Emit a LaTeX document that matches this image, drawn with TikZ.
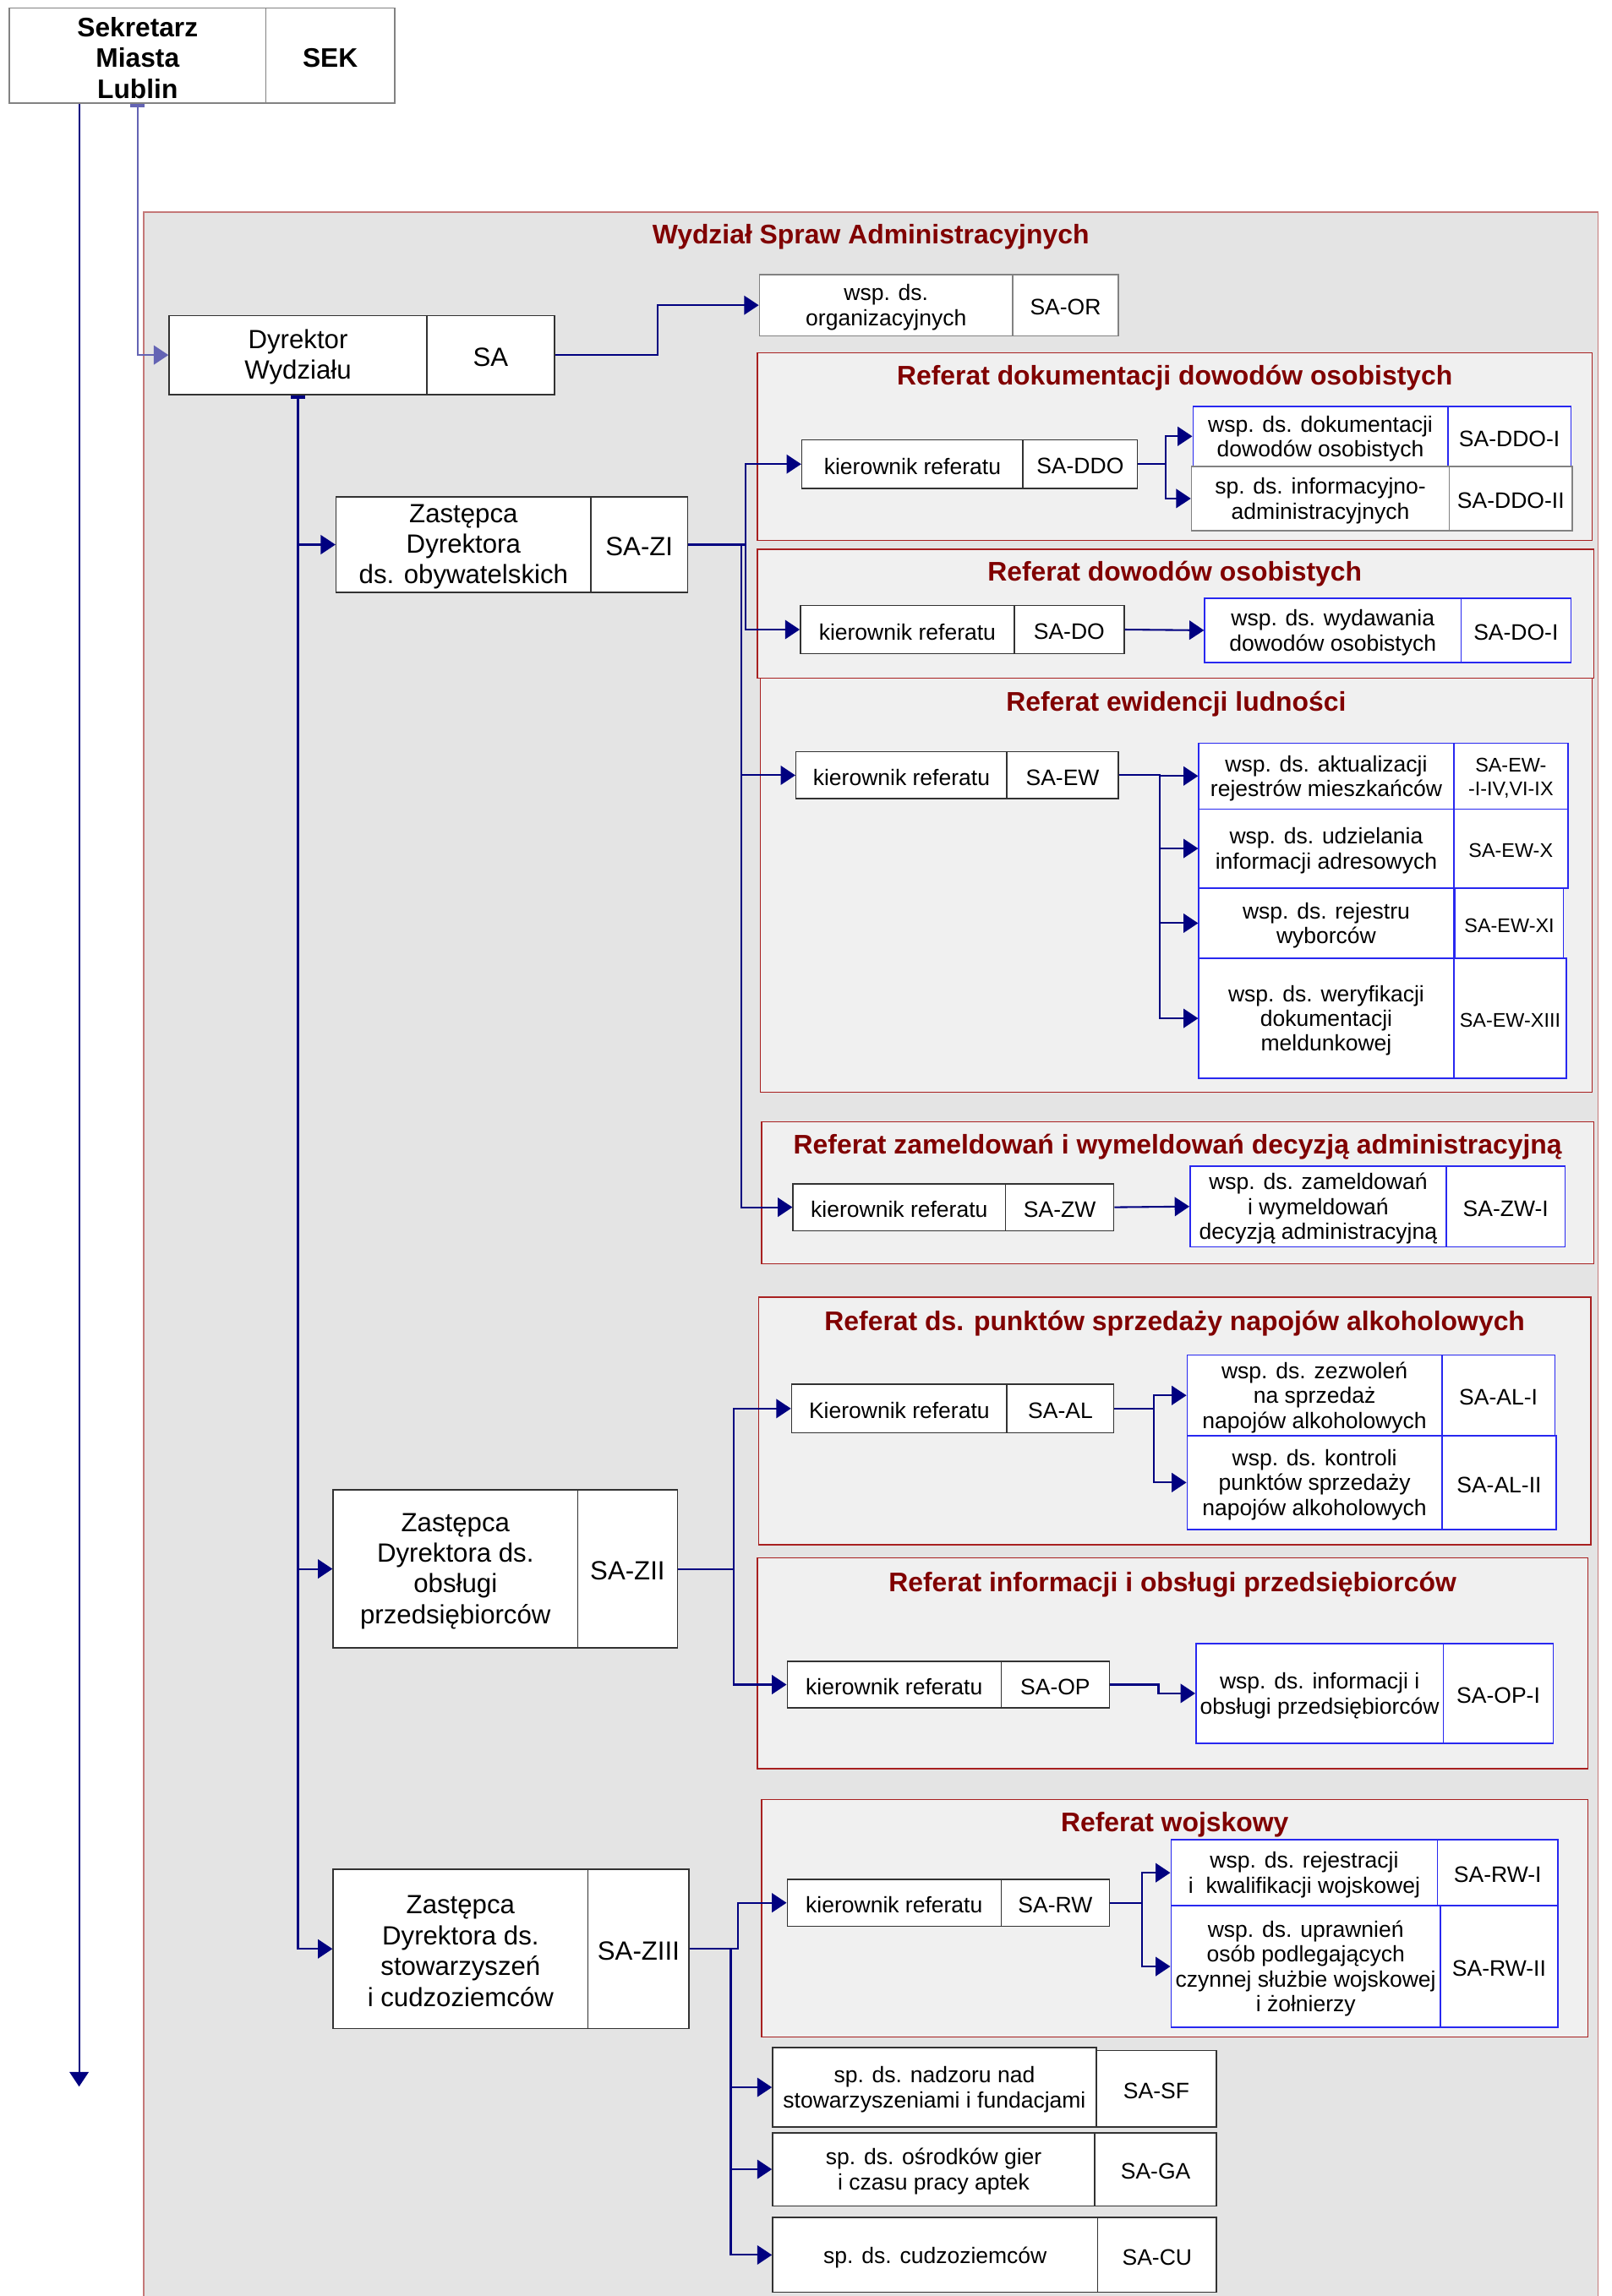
\documentclass[tikz,border=0pt]{standalone}
\usepackage{fontspec}
\setmainfont{Liberation Sans}
\usetikzlibrary{arrows.meta}
\definecolor{navyc}{RGB}{0,0,128}
\definecolor{lightc}{RGB}{100,100,180}
\definecolor{mainfill}{RGB}{228,228,228}
\definecolor{reffill}{RGB}{240,240,240}
\definecolor{mainedge}{RGB}{196,120,120}
\definecolor{refedge}{RGB}{168,32,32}
\definecolor{titlec}{RGB}{128,0,0}
\definecolor{boxedge}{RGB}{50,50,50}
\definecolor{grayedge}{RGB}{130,130,130}
\definecolor{blueedge}{RGB}{40,40,240}
\newcommand{\myfbig}{\fontsize{18}{21}\selectfont}
\newcommand{\myfsm}{\fontsize{15.3}{17}\selectfont}
\newcommand{\myfxs}{\fontsize{13.5}{16}\selectfont}
\newcommand{\myftit}{\fontsize{18.4}{21}\selectfont\bfseries}
\newcommand{\myfsek}{\fontsize{18.3}{21}\selectfont\bfseries}
\newcommand{\ubox}[7][]{\node[bx,#1,minimum width={(#5-#3)*1pt},minimum height={(#6-#4)*1pt}] (#2) at (#3,#4) {};
  \node[bx,#1,txt] (#2t) at ([yshift=-1.5pt]#2.center) {#7};}
\tikzset{
  bx/.style={draw=boxedge, fill=white, line width=0.9pt, inner sep=0pt, align=center, anchor=north west, font=\myfsm},
  txt/.style={draw=none, fill=none, anchor=center},
  big/.style={font=\myfbig},
  sekf/.style={font=\myfsek, draw=grayedge},
  grayb/.style={draw=grayedge},
  blueb/.style={draw=blueedge},
  xs/.style={font=\myfxs},
  ttl/.style={text=titlec, font=\myftit, inner sep=0pt},
  refframe/.style={draw=refedge, fill=reffill, line width=0.9pt},
  arr/.style={draw=navyc, line width=1.2pt, -{Triangle[length=10pt,width=13pt]}},
  arrl/.style={draw=lightc, line width=1.2pt, -{Triangle[length=10pt,width=13pt]}},
  barstart/.style={{Rectangle[length=2.5pt,width=10pt]}-{Triangle[length=10pt,width=13pt]}},
}
\begin{document}
\begin{tikzpicture}[x=1pt,y=-1pt]
\useasboundingbox (0,0) rectangle (1100,1568);
\fill[white] (0,0) rectangle (1100,1568);
% main department frame
\draw[draw=mainedge, fill=mainfill, line width=1pt] (98,145) rectangle (1091,1590);
\node[ttl] (tmain) at (594.5,162) {Wydział Spraw Administracyjnych};
% referat frames
\draw[refframe] (517,241) rectangle (1087,369);
\node[ttl] (t1) at (802,258) {Referat dokumentacji dowodów osobistych};
\draw[refframe] (517,375) rectangle (1088,463);
\node[ttl] (t2) at (802,392) {Referat dowodów osobistych};
\draw[refframe] (519,463) rectangle (1087,746);
\node[ttl] (t3) at (803,481) {Referat ewidencji ludności};
\draw[refframe] (520,766) rectangle (1088,863);
\node[ttl] (t4) at (804,783) {Referat zameldowań i wymeldowań decyzją administracyjną};
\draw[refframe] (518,886) rectangle (1086,1055);
\node[ttl] (t5) at (802,904) {Referat ds. punktów sprzedaży napojów alkoholowych};
\draw[refframe] (517,1064) rectangle (1084,1208);
\node[ttl] (t6) at (800.5,1082) {Referat informacji i obsługi przedsiębiorców};
\draw[refframe] (520,1229) rectangle (1084,1391);
\node[ttl] (t7) at (802,1246) {Referat wojskowy};
% top
\ubox[sekf]{sek}{6}{5}{181}{70}{Sekretarz\\Miasta\\Lublin}
\ubox[sekf]{sekc}{181}{5}{269}{70}{SEK}
\ubox[big]{dyr}{115}{215}{291}{269}{Dyrektor\\Wydziału}
\ubox[big]{dyrc}{291}{215}{378}{269}{SA}
\ubox[grayb]{orl}{518}{187}{691}{229}{wsp. ds.\\organizacyjnych}
\ubox[grayb]{orc}{691}{187}{763}{229}{SA-OR}
% ZI
\ubox[big]{zi}{229}{339}{403}{404}{Zastępca\\Dyrektora\\ds. obywatelskich}
\ubox[big]{zic}{403}{339}{469}{404}{SA-ZI}
\ubox{ddok}{547}{300}{698}{333}{kierownik referatu}
\ubox{ddoc}{698}{300}{776}{333}{SA-DDO}
\ubox[blueb]{dd1}{814}{277}{988}{318}{wsp. ds. dokumentacji\\dowodów osobistych}
\ubox[blueb]{dd1c}{988}{277}{1072}{318}{SA-DDO-I}
\ubox[grayb]{dd2}{813}{318}{989}{362}{sp. ds. informacyjno-\\administracyjnych}
\ubox[grayb]{dd2c}{989}{318}{1073}{362}{SA-DDO-II}
\ubox{dok}{546}{413}{692}{446}{kierownik referatu}
\ubox{doc}{692}{413}{767}{446}{SA-DO}
\ubox[blueb]{do1}{822}{408}{997}{452}{wsp. ds. wydawania\\dowodów osobistych}
\ubox[blueb]{do1c}{997}{408}{1072}{452}{SA-DO-I}
\ubox{ewk}{543}{513}{687}{545}{kierownik referatu}
\ubox{ewc}{687}{513}{763}{545}{SA-EW}
\ubox[blueb]{ew1}{818}{507}{992}{552}{wsp. ds. aktualizacji\\rejestrów mieszkańców}
\ubox[blueb,xs]{ew1c}{992}{507}{1070}{552}{SA-EW-\\-I-IV,VI-IX}
\ubox[blueb]{ew2}{818}{552}{992}{606}{wsp. ds. udzielania\\informacji adresowych}
\ubox[blueb,xs]{ew2c}{992}{552}{1070}{606}{SA-EW-X}
\ubox[blueb]{ew3}{818}{606}{992}{654}{wsp. ds. rejestru\\wyborców}
\ubox[blueb,xs]{ew3c}{993}{606}{1067}{654}{SA-EW-XI}
\ubox[blueb]{ew4}{818}{654}{992}{736}{wsp. ds. weryfikacji\\dokumentacji\\meldunkowej}
\ubox[blueb,xs]{ew4c}{992}{654}{1069}{736}{SA-EW-XIII}
\ubox{zwk}{541}{808}{686}{840}{kierownik referatu}
\ubox{zwc}{686}{808}{760}{840}{SA-ZW}
\ubox[blueb]{zw1}{812}{796}{987}{851}{wsp. ds. zameldowań\\i wymeldowań\\decyzją administracyjną}
\ubox[blueb]{zw1c}{987}{796}{1068}{851}{SA-ZW-I}
% ZII
\ubox[big]{zii}{227}{1017}{394}{1125}{Zastępca\\Dyrektora ds.\\obsługi\\przedsiębiorców}
\ubox[big]{ziic}{394}{1017}{462}{1125}{SA-ZII}
\ubox{alk}{540}{945}{687}{978}{Kierownik referatu}
\ubox{alc}{687}{945}{760}{978}{SA-AL}
\ubox[blueb]{al1}{810}{925}{984}{980}{wsp. ds. zezwoleń\\na sprzedaż\\napojów alkoholowych}
\ubox[blueb]{al1c}{984}{925}{1061}{980}{SA-AL-I}
\ubox[blueb]{al2}{810}{980}{984}{1044}{wsp. ds. kontroli\\punktów sprzedaży\\napojów alkoholowych}
\ubox[blueb]{al2c}{984}{980}{1062}{1044}{SA-AL-II}
\ubox{opk}{537}{1134}{683}{1166}{kierownik referatu}
\ubox{opc}{683}{1134}{757}{1166}{SA-OP}
\ubox[blueb]{op1}{816}{1122}{985}{1190}{wsp. ds. informacji i\\obsługi przedsiębiorców}
\ubox[blueb]{op1c}{985}{1122}{1060}{1190}{SA-OP-I}
% ZIII
\ubox[big]{ziii}{227}{1276}{401}{1385}{Zastępca\\Dyrektora ds.\\stowarzyszeń\\i cudzoziemców}
\ubox[big]{ziiic}{401}{1276}{470}{1385}{SA-ZIII}
\ubox{rwk}{537}{1283}{683}{1315}{kierownik referatu}
\ubox{rwc}{683}{1283}{757}{1315}{SA-RW}
\ubox[blueb]{rw1}{799}{1256}{981}{1301}{wsp. ds. rejestracji\\i\ \ kwalifikacji wojskowej}
\ubox[blueb]{rw1c}{981}{1256}{1063}{1301}{SA-RW-I}
\ubox[blueb]{rw2}{799}{1301}{983}{1384}{wsp. ds. uprawnień\\osób podlegających\\czynnej służbie wojskowej\\i żołnierzy}
\ubox[blueb]{rw2c}{983}{1301}{1063}{1384}{SA-RW-II}
\ubox{sf}{527}{1398}{748}{1452}{sp. ds. nadzoru nad\\stowarzyszeniami i fundacjami}
\ubox{sfc}{748}{1400}{830}{1452}{SA-SF}
\ubox{ga}{527}{1456}{747}{1506}{sp. ds. ośrodków gier\\i czasu pracy aptek}
\ubox{gac}{747}{1456}{830}{1506}{SA-GA}
\ubox{cu}{527}{1514}{749}{1565}{sp. ds. cudzoziemców}
\ubox{cuc}{749}{1514}{830}{1565}{SA-CU}
% connectors
\coordinate (sekend) at (54,1425);
\draw[arr] (sekend |- sek.south) -- (sekend);
\draw[arrl,barstart] (sek.south) |- (dyr.west);
\draw[arr] (dyrc.east) -- ++(70,0) |- (orl.west);
\draw[arr,barstart] (dyr.south) |- (zi.west);
\draw[arr] (dyr.south) |- (zii.west);
\draw[arr] (dyr.south) |- (ziii.west);
% ZI branches
\draw[arr] (zic.east) -- ++(39,0) |- (ddok.west);
\draw[arr] (zic.east) -- ++(39,0) |- (dok.west);
\draw[arr] (zic.east) -- ++(36,0) |- (ewk.west);
\draw[arr] (zic.east) -- ++(36,0) |- (zwk.west);
\draw[arr] (ddoc.east) -- ++(19,0) |- (dd1.west);
\draw[arr] (ddoc.east) -- ++(19,0) |- (dd2.west);
\draw[arr] (doc.east) -- (do1.west);
\draw[arr] (ewc.east) -- ++(28,0) |- (ew1.west);
\draw[arr] (ewc.east) -- ++(28,0) |- (ew2.west);
\draw[arr] (ewc.east) -- ++(28,0) |- (ew3.west);
\draw[arr] (ewc.east) -- ++(28,0) |- (ew4.west);
\draw[arr] (zwc.east) -- (zw1.west);
% ZII branches
\draw[arr] (ziic.east) -- ++(38,0) |- (alk.west);
\draw[arr] (ziic.east) -- ++(38,0) |- (opk.west);
\draw[arr] (alc.east) -- ++(27,0) |- (al1.west);
\draw[arr] (alc.east) -- ++(27,0) |- (al2.west);
\draw[arr] (opc.east) -- ++(33,0) |- (op1.west);
% ZIII branches
\draw[arr] (ziiic.east) -- ++(33,0) |- (rwk.west);
\draw[arr] (ziiic.east) -- ++(28,0) |- (sf.west);
\draw[arr] (ziiic.east) -- ++(28,0) |- (ga.west);
\draw[arr] (ziiic.east) -- ++(28,0) |- (cu.west);
\draw[arr] (rwc.east) -- ++(22,0) |- (rw1.west);
\draw[arr] (rwc.east) -- ++(22,0) |- (rw2.west);
\end{tikzpicture}
\end{document}
